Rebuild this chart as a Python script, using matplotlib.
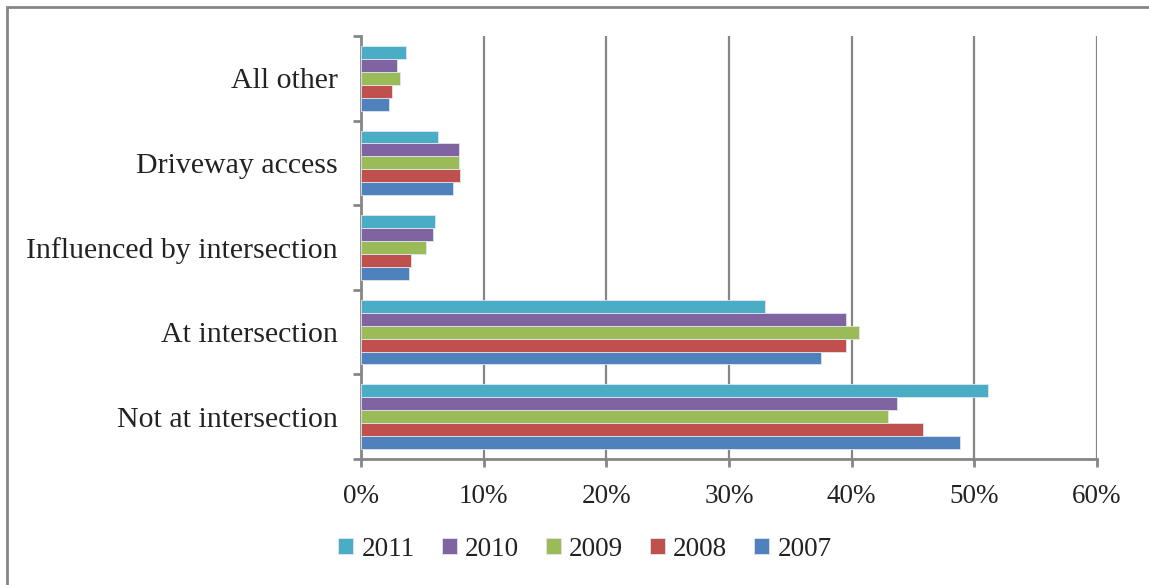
import numpy as np
import matplotlib
matplotlib.use("Agg")
import matplotlib.pyplot as plt
from matplotlib.patches import Rectangle

# categories, bottom to top
categories = ["Not at intersection", "At intersection", "Influenced by intersection",
              "Driveway access", "All other"]

# share of crashes (%) per year, same order as categories
v2007 = [48.8, 37.5, 3.9, 7.5, 2.3]
v2008 = [45.8, 39.5, 4.1, 8.1, 2.55]
v2009 = [43.0, 40.6, 5.3, 8.0, 3.15]
v2010 = [43.7, 39.5, 5.9, 8.0, 2.9]
v2011 = [51.1, 32.9, 6.0, 6.3, 3.7]

years = ["2007", "2008", "2009", "2010", "2011"]
series = [v2007, v2008, v2009, v2010, v2011]
colors = ["#4F81BD", "#C0504D", "#9BBB59", "#8064A2", "#4BACC6"]
xticks = [0, 10, 20, 30, 40, 50, 60]

plt.rcParams['font.family'] = ['Liberation Serif', 'DejaVu Serif']
grey = "#868686"

fig = plt.figure(figsize=(11.49, 5.85), dpi=100)
# outer frame
fig.patches.append(Rectangle((7 / 1149, -0.05), 1.5, 1 - 7 / 585 + 0.05,
                             transform=fig.transFigure, fill=False,
                             edgecolor=grey, linewidth=2))

ax = fig.add_axes([361 / 1149, 1 - 459 / 585, (1097 - 361) / 1149, 423 / 585])

y = np.arange(len(categories))
h = 0.153
handles = {}
for i, (yr, vals, c) in enumerate(zip(years, series, colors)):
    off = (i - 2) * h
    b = ax.barh(y + off, vals, height=h, color=c, edgecolor="#dfe6ee",
                linewidth=0.6, zorder=3)
    handles[yr] = b

ax.set_xlim(0, 60)
ax.set_ylim(-0.5, len(categories) - 0.5)
ax.set_xticks(xticks)
ax.set_xticklabels([f"{t}%" for t in xticks], fontsize=19.5, color="#222222")
ax.set_yticks(y)
ax.set_yticklabels(categories, fontsize=21.5, color="#222222")
ax.set_yticks(np.arange(-0.5, len(categories), 1), minor=True)
ax.tick_params(axis='y', which='major', length=0, pad=17)
ax.tick_params(axis='y', which='minor', length=6, width=2, color=grey, direction='out')
ax.tick_params(axis='x', length=6, width=2, color=grey, direction='out', pad=12)
ax.xaxis.grid(True, color=grey, linewidth=1.6, zorder=0)
ax.set_axisbelow(True)
for s in ["top", "right"]:
    ax.spines[s].set_visible(False)
for s in ["left", "bottom"]:
    ax.spines[s].set_color(grey)
    ax.spines[s].set_linewidth(2)

order = ["2011", "2010", "2009", "2008", "2007"]
leg = fig.legend([handles[k] for k in order], order, loc="center",
                 bbox_to_anchor=(585 / 1149, 1 - 549 / 585), ncol=5, frameon=False,
                 fontsize=19.5, handlelength=0.55, handleheight=0.55, handletextpad=0.3,
                 columnspacing=1.0)
for t in leg.get_texts():
    t.set_color("#222222")

fig.savefig("out.png", dpi=100, facecolor="white")
